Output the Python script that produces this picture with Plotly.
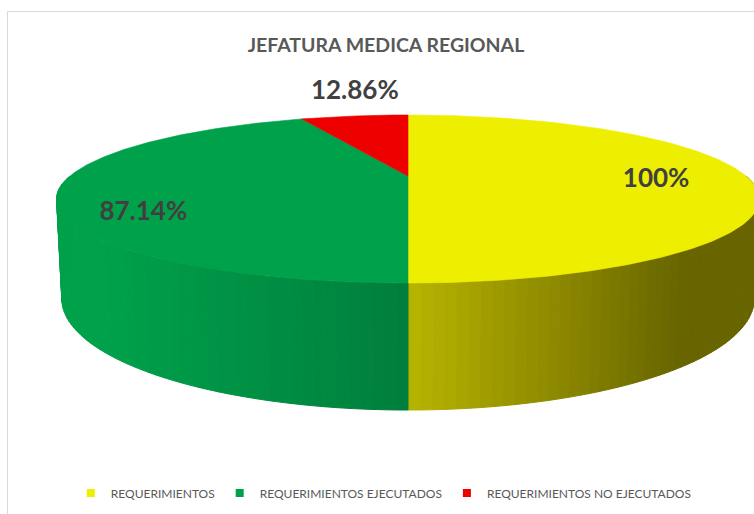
import numpy as np
import plotly.graph_objects as go

# ---------------- data ----------------
categories = ["REQUERIMIENTOS", "REQUERIMIENTOS EJECUTADOS", "REQUERIMIENTOS NO EJECUTADOS"]
values = [100, 87.14, 12.86]
label_text = ["100%", "87.14%", "12.86%"]
title_text = "JEFATURA MEDICA REGIONAL"

# ---------------- style / geometry ----------------
top_colors = ["#EEEE00", "#00A14B", "#EE0000"]
side_from = {"REQUERIMIENTOS": (184, 180, 0), "REQUERIMIENTOS EJECUTADOS": (0, 161, 75)}
side_to = {"REQUERIMIENTOS": (104, 101, 0), "REQUERIMIENTOS EJECUTADOS": (0, 126, 60)}
W, Hh = 754, 514
CX, CY = 408.0, 176.0      # projected centre of top face
A, B = 338.0, 77.7         # projected radii
P = 0.274                  # perspective factor
DEPTH = 92.2               # thickness
KX = 0.985                 # bottom face horizontal shrink
label_r = [0.74, 0.76, 1.35]
label_dx = [-2, -2, 14]
label_dy = [4, 25, -8]
FONT = "Lato"


def proj(phi_deg, r=1.0, bottom=False):
    phi = np.radians(phi_deg)
    c, s = r * np.cos(phi), r * np.sin(phi)
    d = 1 + P * s
    kx = KX if bottom else 1.0
    x = CX + kx * A * c / d
    y = CY - B * s / d + (DEPTH / d if bottom else 0.0)
    return x, y


total = float(sum(values))
starts, ends = [], []
acc = 0.0
for v in values:
    s = 90 - 360 * acc / total
    e = 90 - 360 * (acc + v) / total
    starts.append(s)
    ends.append(e)
    acc += v

fig = go.Figure()


def lerp_col(c0, c1, t):
    t = min(max(t, 0), 1)
    return "rgb(%d,%d,%d)" % tuple(round(a + (b - a) * t) for a, b in zip(c0, c1))


# side walls (front half only: angles in [-180, 0])
for i, cat in enumerate(categories):
    s, e = starts[i], ends[i]
    lo, hi = e, s
    a0, a1 = max(lo, -180), min(hi, 0)
    if a1 <= a0:
        continue
    n = 60
    edges = np.linspace(a1, a0, n + 1)
    for k in range(n):
        ph = np.linspace(edges[k], edges[k + 1], 4)
        xt, yt = proj(ph)
        xb, yb = proj(ph[::-1], bottom=True)
        xs = np.concatenate([xt, xb, xt[:1]])
        ys = np.concatenate([yt, yb, yt[:1]])
        xm = float(np.mean(xt))
        if cat == "REQUERIMIENTOS":
            t = (xm - 408) / (680 - 408)
        else:
            t = (xm - 100) / (408 - 100)
        col = lerp_col(side_from[cat], side_to[cat], t)
        fig.add_trace(go.Scatter(x=xs, y=ys, mode="lines", fill="toself",
                                 fillcolor=col, line=dict(color=col, width=1),
                                 hoverinfo="skip", showlegend=False))

# top faces
for i, cat in enumerate(categories):
    ph = np.linspace(starts[i], ends[i], 240)
    xa, ya = proj(ph)
    xs = np.concatenate([[CX], xa, [CX]])
    ys = np.concatenate([[CY], ya, [CY]])
    fig.add_trace(go.Scatter(x=xs, y=ys, mode="lines", fill="toself",
                             fillcolor=top_colors[i], line=dict(color=top_colors[i], width=0.6),
                             hoverinfo="skip", showlegend=False))

# data labels
lx, ly = [], []
for i in range(len(values)):
    mid = (starts[i] + ends[i]) / 2
    x, y = proj(mid, r=label_r[i])
    lx.append(x + label_dx[i])
    ly.append(y + label_dy[i])
fig.add_trace(go.Scatter(x=lx, y=ly, mode="text", text=label_text,
                         textfont=dict(family=FONT, size=26, color="#404040", weight="bold"),
                         hoverinfo="skip", showlegend=False))

# legend entries
for i, cat in enumerate(categories):
    fig.add_trace(go.Scatter(x=[None], y=[None], mode="markers", name=cat,
                             marker=dict(symbol="square", size=8, color=top_colors[i])))

fig.add_shape(type="rect", xref="x", yref="y", x0=7.5, y0=11.5, x1=W + 40, y1=Hh + 40,
              line=dict(color="#D9D9D9", width=1), fillcolor="rgba(0,0,0,0)", layer="below")

fig.update_layout(
    width=W, height=Hh, autosize=False,
    margin=dict(l=0, r=0, t=0, b=0),
    paper_bgcolor="white", plot_bgcolor="white",
    xaxis=dict(range=[0, W], visible=False, fixedrange=True, domain=[0, 1]),
    yaxis=dict(range=[Hh, 0], visible=False, fixedrange=True, domain=[0, 1]),
    title=dict(text=title_text, x=386 / W, xanchor="center", y=1 - 45 / Hh, yanchor="middle",
               font=dict(family=FONT, size=19.5, color="#595959", weight="bold")),
    legend=dict(orientation="h", x=0.509, xanchor="center", y=1 - 493 / Hh, yanchor="middle",
                font=dict(family=FONT, size=12, color="#595959"), bgcolor="rgba(0,0,0,0)",
                itemwidth=30),
    showlegend=True,
)

fig.write_html("out.html", config={"displayModeBar": False},
               post_script="document.body.style.margin='0';document.body.style.overflow='hidden';")
